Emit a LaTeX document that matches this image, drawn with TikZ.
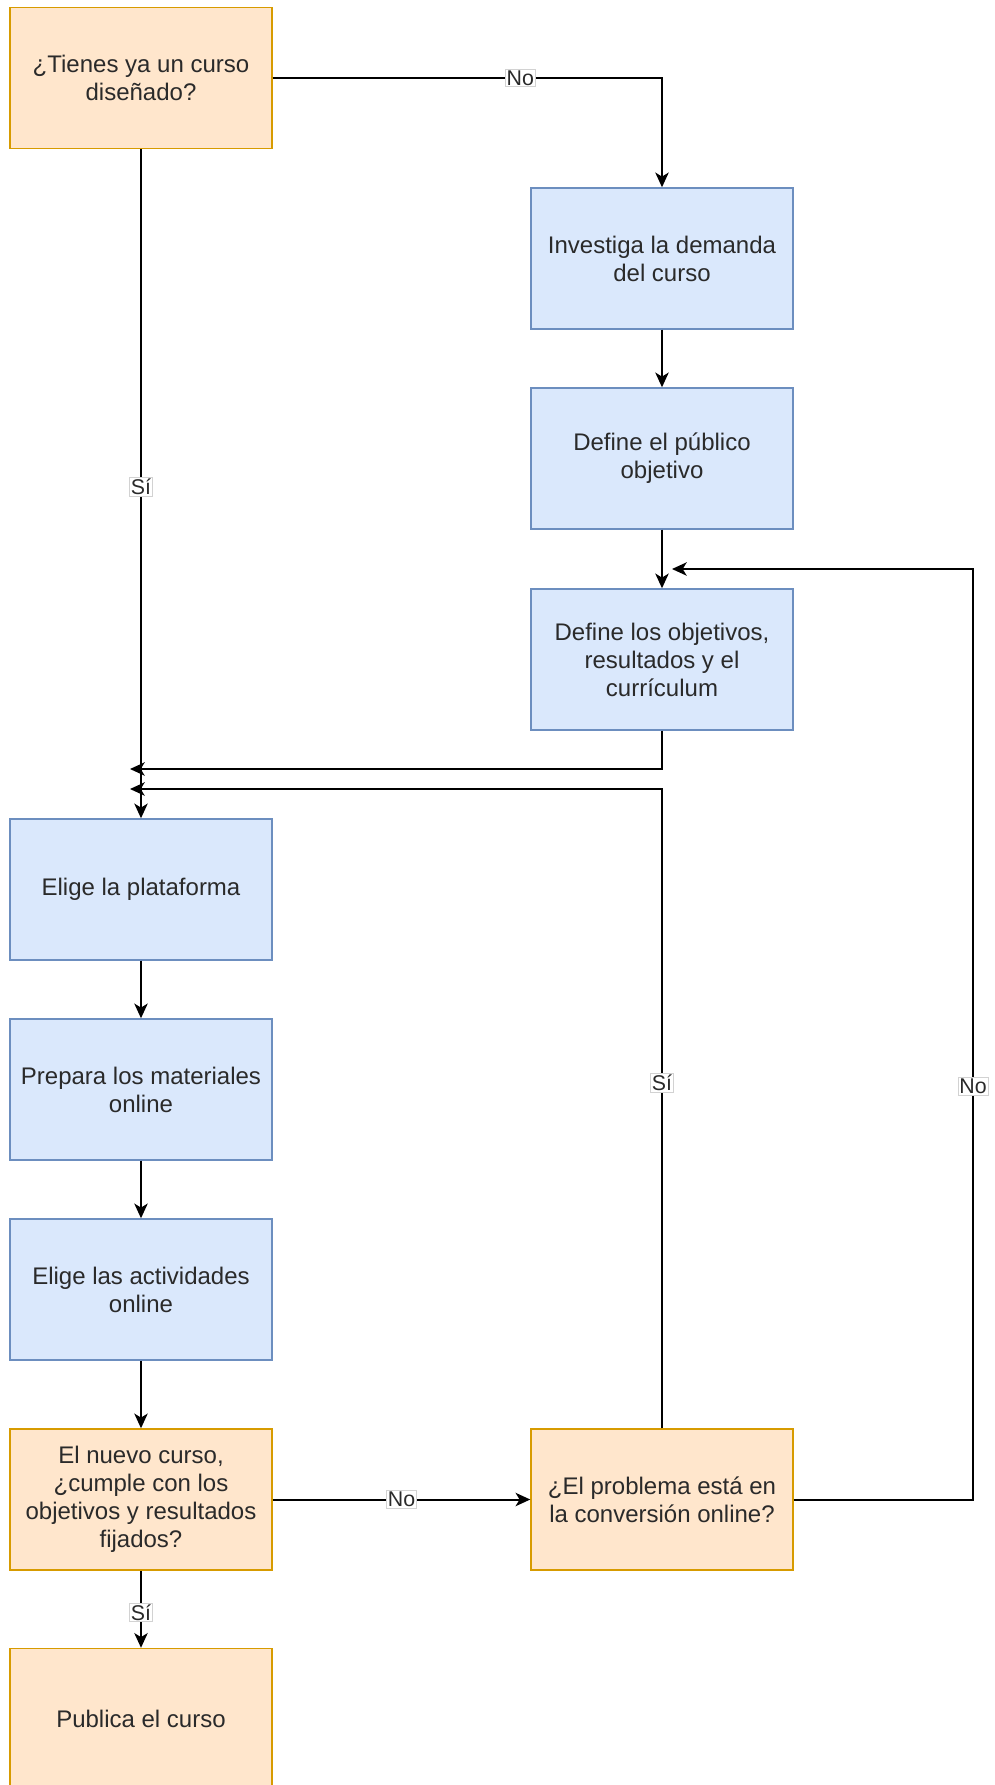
\documentclass[tikz,border=0pt]{standalone}
\usepackage{fontspec}
\setmainfont{Liberation Sans}
\usetikzlibrary{arrows.meta}
\definecolor{ofill}{HTML}{FFE6CC}
\definecolor{odraw}{HTML}{D79B00}
\definecolor{bfill}{HTML}{DAE8FC}
\definecolor{bdraw}{HTML}{6C8EBF}
\definecolor{txt}{HTML}{2A2A2A}
\tikzset{
  box/.style={rectangle, minimum width=196.5pt, minimum height=105.75pt, inner sep=2pt,
    align=center, line width=1.1pt, text=txt,
    font=\fontsize{18}{21}\selectfont},
  obox/.style={box, fill=ofill, draw=odraw},
  bbox/.style={box, fill=bfill, draw=bdraw},
  arr/.style={line width=1.5pt, -{Stealth[length=11pt,width=10pt,inset=3pt]}},
  ln/.style={line width=1.5pt},
  lbl/.style={fill=white, draw=gray!35, line width=0.5pt, inner sep=1pt, text=txt,
    font=\fontsize{16}{18}\selectfont}
}
\begin{document}
\begin{tikzpicture}[x=0.75pt,y=-0.75pt]
\useasboundingbox (0,0) rectangle (995,1785);
\clip (0,0) rectangle (995,1785);
\fill[white] (0,0) rectangle (995,1785);

\node[obox] (q1) at (141,78) {¿Tienes ya un curso\\diseñado?};
\node[bbox] (inv) at (662,258.5) {Investiga la demanda\\del curso};
\node[bbox] (pub) at (662,458.5) {Define el público\\objetivo};
\node[bbox] (obj) at (662,659.5) {Define los objetivos,\\resultados y el\\currículum};
\node[bbox] (plat) at (141,889.5) {Elige la plataforma};
\node[bbox] (mat) at (141,1089.5) {Prepara los materiales\\online};
\node[bbox] (act) at (141,1289.5) {Elige las actividades\\online};
\node[obox] (q2) at (141,1499.5) {El nuevo curso,\\¿cumple con los\\objetivos y resultados\\fijados?};
\node[obox] (conv) at (662,1499.5) {¿El problema está en\\la conversión online?};
\node[obox] (publ) at (141,1719) {Publica el curso};

\coordinate (m1) at (130,769);
\coordinate (m2) at (130,789);
\coordinate (m3) at (672,569);
\coordinate (c1) at (973,1499.5);

\draw[arr] (q1.east) -| node[lbl, pos=0.318] {No} (inv.north);
\draw[arr] (q1.south) -- node[lbl, pos=0.505] {Sí} (plat.north);
\draw[arr] (inv) -- (pub);
\draw[arr] (pub) -- (obj);
\draw[arr] (obj.south) |- (m1);
\draw[arr] (conv.north) |- node[lbl, pos=0.27] {Sí} (m2);
\draw[arr] (conv.east) -- (c1) |- node[lbl, pos=0.222] {No} (m3);
\draw[arr] (plat) -- (mat);
\draw[arr] (mat) -- (act);
\draw[arr] (act) -- (q2);
\draw[arr] (q2) -- node[lbl, pos=0.5] {No} (conv);
\draw[arr] (q2.south) -- node[lbl, pos=0.54] {Sí} (publ.north);
\end{tikzpicture}
\end{document}
